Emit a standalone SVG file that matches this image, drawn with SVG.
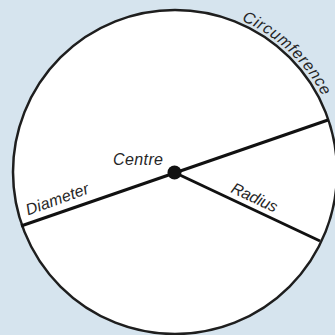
<svg xmlns="http://www.w3.org/2000/svg" width="335" height="335" viewBox="0 0 335 335">
  <style>
    .lbl { font-family: "Liberation Sans", Arial, sans-serif; font-style: italic; font-size: 16px; fill: #262626; }
    .line { stroke: #111; stroke-width: 3; stroke-linecap: butt; fill: none; }
  </style>
  <defs>
    <path id="circPath" d="M241.5,20.5 A166,166 0 0 1 331,115"/>
  </defs>
  <rect x="0" y="0" width="335" height="335" fill="#d6e4ee"/>
  <g id="circle">
    <circle cx="175" cy="172" r="162" fill="#ffffff" stroke="#1e1e1e" stroke-width="2.5"/>
    <text class="lbl" textLength="113" lengthAdjust="spacing"><textPath href="#circPath">Circumference</textPath></text>
  </g>
  <g id="connectors">
    <line class="line" x1="21" y1="226" x2="328" y2="120"/>
    <line class="line" x1="174.5" y1="172.5" x2="320" y2="241"/>
  </g>
  <g id="centre">
    <circle cx="174.5" cy="172.5" r="7" fill="#111"/>
    <text class="lbl" x="113" y="165" textLength="50" lengthAdjust="spacing">Centre</text>
  </g>
  <g id="diameter">
    <text class="lbl" transform="translate(28,215.5) rotate(-20)" x="0" y="0" textLength="66" lengthAdjust="spacing">Diameter</text>
  </g>
  <g id="radius">
    <text class="lbl" transform="translate(230,192) rotate(25)" x="0" y="0" textLength="49" lengthAdjust="spacing">Radius</text>
  </g>
</svg>
